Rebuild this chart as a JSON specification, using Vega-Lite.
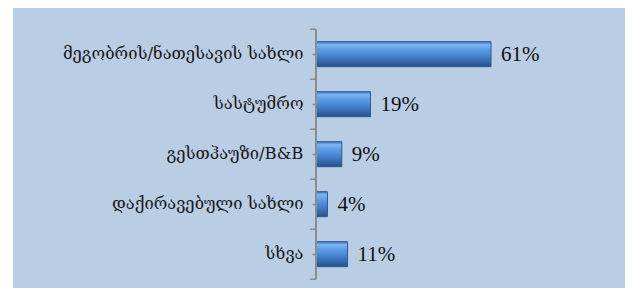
{
  "$schema": "https://vega.github.io/schema/vega-lite/v6.json",
  "autosize": {"type": "none"},
  "width": 612,
  "height": 280,
  "padding": {"left": 13, "top": 8, "right": 4, "bottom": 0},
  "background": "white",
  "config": {"view": {"fill": "#b9cde4", "stroke": null}},
  "datasets": {
    "main": [
      {"category": "მეგობრის/ნათესავის სახლი", "value": 0.61},
      {"category": "სასტუმრო", "value": 0.19},
      {"category": "გესთჰაუზი/B&B", "value": 0.09},
      {"category": "დაქირავებული სახლი", "value": 0.04},
      {"category": "სხვა", "value": 0.11}
    ],
    "axisline": [
      {"from": "მეგობრის/ნათესავის სახლი", "to": "სხვა", "x0": 0, "x1": -0.021}
    ]
  },
  "layer": [
    {
      "data": {"name": "main"},
      "mark": {"type": "bar", "stroke": "#2b5a95", "strokeWidth": 1,
        "color": {"gradient": "linear", "x1": 0, "y1": 0, "x2": 0, "y2": 1,
          "stops": [
            {"offset": 0, "color": "#3f75b8"},
            {"offset": 0.12, "color": "#7cb6f4"},
            {"offset": 0.3, "color": "#5d9de6"},
            {"offset": 0.6, "color": "#4380cb"},
            {"offset": 0.88, "color": "#305f9d"},
            {"offset": 1, "color": "#284f85"}
          ]}},
      "encoding": {
        "y": {"field": "category", "type": "nominal", "sort": null,
          "scale": {"paddingInner": 0.5, "paddingOuter": 0.55, "align": 0.613},
          "axis": {"title": null, "orient": "left", "offset": -303, "domain": false,
            "ticks": true, "tickSize": 4, "tickColor": "#8c8c8c", "tickWidth": 1.5,
            "labelPadding": 9, "labelFont": "DejaVu Serif", "labelFontSize": 16.5,
            "labelColor": "#1a1a1a", "labelLimit": 400}},
        "x": {"field": "value", "type": "quantitative",
          "scale": {"domain": [-1.056, 1.077], "nice": false, "zero": false},
          "axis": null}
      }
    },
    {
      "data": {"name": "main"},
      "mark": {"type": "text", "align": "left", "baseline": "middle", "dx": 10, "dy": 1,
        "font": "Liberation Serif", "fontSize": 21, "color": "#111111"},
      "encoding": {
        "y": {"field": "category", "type": "nominal", "sort": null},
        "x": {"field": "value", "type": "quantitative"},
        "text": {"field": "value", "type": "quantitative", "format": ".0%"}
      }
    },
    {
      "data": {"name": "main"},
      "mark": {"type": "rule", "color": "#8c8c8c", "strokeWidth": 1.5},
      "encoding": {
        "y": {"field": "category", "type": "nominal", "sort": null, "bandPosition": -0.5},
        "x": {"datum": -0.021, "type": "quantitative"},
        "x2": {"datum": 0}
      }
    },
    {
      "data": {"name": "axisline"},
      "mark": {"type": "rule", "color": "#8c8c8c", "strokeWidth": 1.5},
      "encoding": {
        "y": {"field": "to", "type": "nominal", "sort": null, "bandPosition": 1.5},
        "x": {"field": "x1", "type": "quantitative"},
        "x2": {"field": "x0"}
      }
    },
    {
      "data": {"name": "axisline"},
      "mark": {"type": "rule", "color": "#8c8c8c", "strokeWidth": 2},
      "encoding": {
        "y": {"field": "from", "type": "nominal", "sort": null, "bandPosition": -0.5},
        "y2": {"field": "to", "bandPosition": 1.5},
        "x": {"field": "x0", "type": "quantitative"}
      }
    }
  ]
}
